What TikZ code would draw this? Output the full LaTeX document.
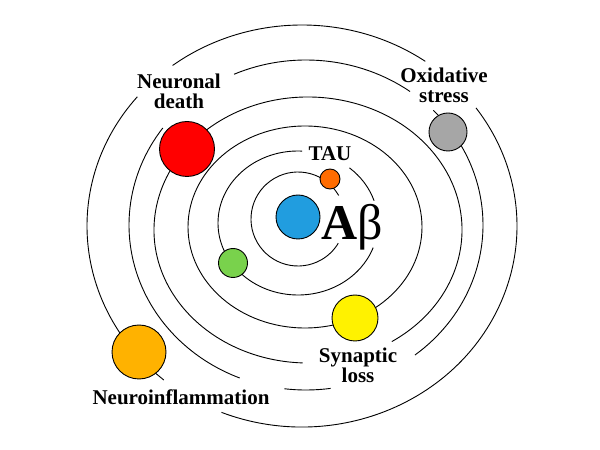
\documentclass[tikz,border=0pt]{standalone}
\usepackage{fontspec}
\setmainfont{Liberation Serif}
\usepackage{tikz}

\begin{document}
\begin{tikzpicture}[x=1pt,y=1pt,
    orbit/.style={line width=0.9pt},
    planet/.style={circle,draw=black,line width=0.9pt,inner sep=0pt},
    lbl/.style={font=\fontsize{21}{20}\selectfont\bfseries,align=center,inner sep=0pt}]
    \useasboundingbox (0,0) rectangle (600,450);
    % orbits: centre x, centre y, x radius, y radius, start, end
    \foreach \cx/\cy/\rx/\ry/\a/\b in {
        298/231/47/47/30/329,
        298/227/80/72/87/340, 298/227/80/72/18/50,
        305/223/117/101/0/360,
        308/220/154/133/-57/268,
        306/225/177/165/54/114, 306/225/177/165/144/248,
        306/225/177/165/263/278, 306/225/177/165/-52/44,
        302/224/215/201/-112/36, 302/224/215/201/55/127,
        302/224/215/201/140/230}{
        \draw [orbit] (\cx,\cy) ++(\a:\rx pt and \ry pt)
            arc [start angle=\a, end angle=\b, x radius=\rx, y radius=\ry];
    }
    % planets
    \node [planet,fill=cyan!80!blue!90,minimum size=44pt] (abeta) at (298,233) {};
    \node [planet,fill=orange!85!red,minimum size=20pt] (tau) at (330,271) {};
    \node [planet,fill=green!50!olive!70!white,minimum size=29pt] (green) at (233,187) {};
    \node [planet,fill=yellow,minimum size=46pt] (synapse) at (355,132) {};
    \node [planet,fill=red,minimum size=55pt] (death) at (187,301) {};
    \node [planet,fill=gray!70,minimum size=38pt] (oxid) at (448,318) {};
    \node [planet,fill=orange!60!yellow,minimum size=54pt] (inflam) at (139,98) {};
    % labels
    \node [font=\fontsize{50}{50}\selectfont\bfseries,inner sep=0pt] (abetalbl) at (352,223) {A{\mdseries β}};
    \node [lbl] (taulbl) at (330,296) {TAU};
    \node [lbl] (deathlbl) at (179,359) {Neuronal\\death};
    \node [lbl] (oxidlbl) at (444,365) {Oxidative\\stress};
    \node [lbl] (synapselbl) at (358,85) {Synaptic\\loss};
    \node [lbl] (inflamlbl) at (181,53) {Neuroinflammation};
\end{tikzpicture}
\end{document}
